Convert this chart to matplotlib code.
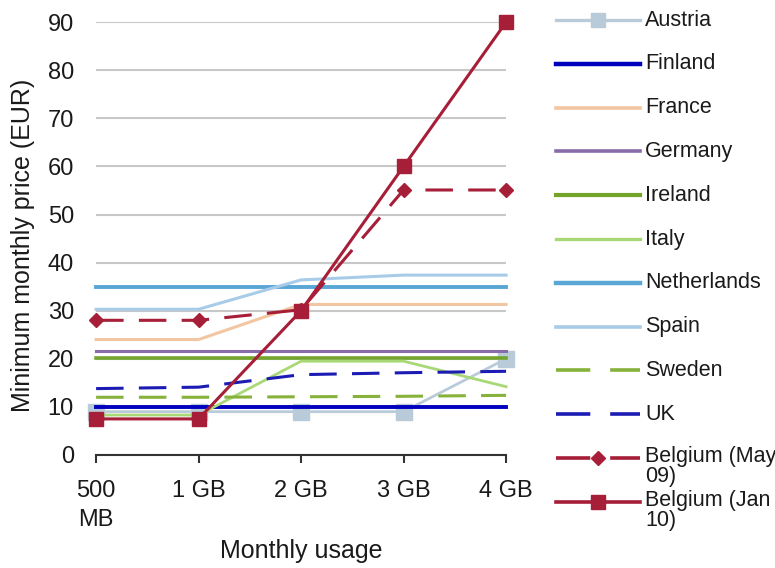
import matplotlib
matplotlib.use("Agg")
import matplotlib.pyplot as plt
from matplotlib.lines import Line2D

plt.rcParams["font.family"] = ["Liberation Sans", "DejaVu Sans"]

# data
usage = ["500\nMB", "1 GB", "2 GB", "3 GB", "4 GB"]
countries = ["Austria", "Finland", "France", "Germany", "Ireland", "Italy",
             "Netherlands", "Spain", "Sweden", "UK",
             "Belgium (May\n09)", "Belgium (Jan\n10)"]
austria = [9, 9, 9, 9, 20]
finland = [10, 10, 10, 10, 10]
france = [24, 24, 31.3, 31.3, 31.3]
germany = [21.7, 21.7, 21.7, 21.7, 21.7]
ireland = [20.2, 20.2, 20.2, 20.2, 20.2]
italy = [8.3, 8.3, 19.5, 19.5, 14.2]
netherlands = [35, 35, 35, 35, 35]
spain = [30.3, 30.3, 36.4, 37.4, 37.4]
sweden = [12, 12, 12.1, 12.2, 12.4]
uk = [13.8, 14.1, 16.7, 17.1, 17.4]
belgium_may09 = [28, 28, 30.2, 55.1, 55.1]
belgium_jan10 = [7.5, 7.5, 30, 60, 90]

series = [austria, finland, france, germany, ireland, italy, netherlands,
          spain, sweden, uk, belgium_may09, belgium_jan10]

# style per series: colour, width, dashed, marker, marker size
styles = [
    ("#B9CBD9", 2.0, False, "s", 12),
    ("#0000BE", 2.8, False, None, 0),
    ("#F3C6A2", 2.2, False, None, 0),
    ("#8A6BAA", 2.2, False, None, 0),
    ("#74A52B", 2.6, False, None, 0),
    ("#A9D877", 2.0, False, None, 0),
    ("#5AA7D6", 2.8, False, None, 0),
    ("#A8CCE8", 2.2, False, None, 0),
    ("#86B23C", 2.2, True, None, 0),
    ("#1C1CB4", 2.2, True, None, 0),
    ("#A61E38", 2.2, True, "D", 7),
    ("#A61E38", 2.2, False, "s", 9.5),
]
dash = (9, 5)

fig = plt.figure(figsize=(7.75, 5.68), dpi=100)
ax = fig.add_axes([0.124, 0.199, 0.529, 0.762])

x = list(range(len(usage)))
for vals, (col, lw, dashed, mk, ms) in zip(series, styles):
    kw = dict(color=col, lw=lw, clip_on=False, zorder=3)
    if dashed:
        kw["dashes"] = dash
    if mk:
        kw.update(marker=mk, ms=ms, markerfacecolor=col, markeredgecolor=col)
    ax.plot(x, vals, **kw)

ax.set_xlim(0, 4)
ax.set_ylim(0, 90)
ax.set_yticks(range(0, 91, 10))
ax.set_xticks(x)
ax.set_xticklabels(usage, linespacing=1.4)
ax.yaxis.grid(True, color="#C8C8C8", lw=1.5, zorder=0)
ax.set_axisbelow(True)
for s in ["top", "right", "left"]:
    ax.spines[s].set_visible(False)
ax.spines["bottom"].set_color("#333333")
ax.spines["bottom"].set_linewidth(1.5)
ax.tick_params(axis="y", length=0, pad=16, labelsize=17, labelcolor="#1a1a1a")
ax.tick_params(axis="x", length=6, width=1.5, color="#333333", direction="out",
               pad=12, labelsize=17, labelcolor="#1a1a1a")

ax.set_xlabel("Monthly usage", fontsize=18, color="#1a1a1a", labelpad=6)
ax.set_ylabel("Minimum monthly price (EUR)", fontsize=18, color="#1a1a1a")
ax.yaxis.set_label_coords(-0.148, 0.485)

# legend drawn by hand on the right
W, H = 775, 568
hx0, hx1, tx = 556, 640, 645
for i, (name, (col, lw, dashed, mk, ms)) in enumerate(zip(countries, styles)):
    yp = 1 - (20 + 43.8 * i) / H
    kw = dict(color=col, lw=lw + 0.4, transform=fig.transFigure)
    if dashed:
        kw["dashes"] = (9.5, 5.5)
    if mk:
        kw.update(marker=mk, ms=ms if mk == "D" else 9.5, markevery=[1],
                  markerfacecolor=col, markeredgecolor=col)
    fig.add_artist(Line2D([hx0 / W, (hx0 + hx1) / 2 / W, hx1 / W], [yp] * 3, **kw))
    if "\n" in name:
        fig.text(tx / W, yp + 12 / H, name, fontsize=15.5, color="#1a1a1a",
                 va="top", ha="left", linespacing=0.92)
    else:
        fig.text(tx / W, yp, name, fontsize=15.5, color="#1a1a1a",
                 va="center", ha="left")

fig.savefig("out.png", dpi=100)
